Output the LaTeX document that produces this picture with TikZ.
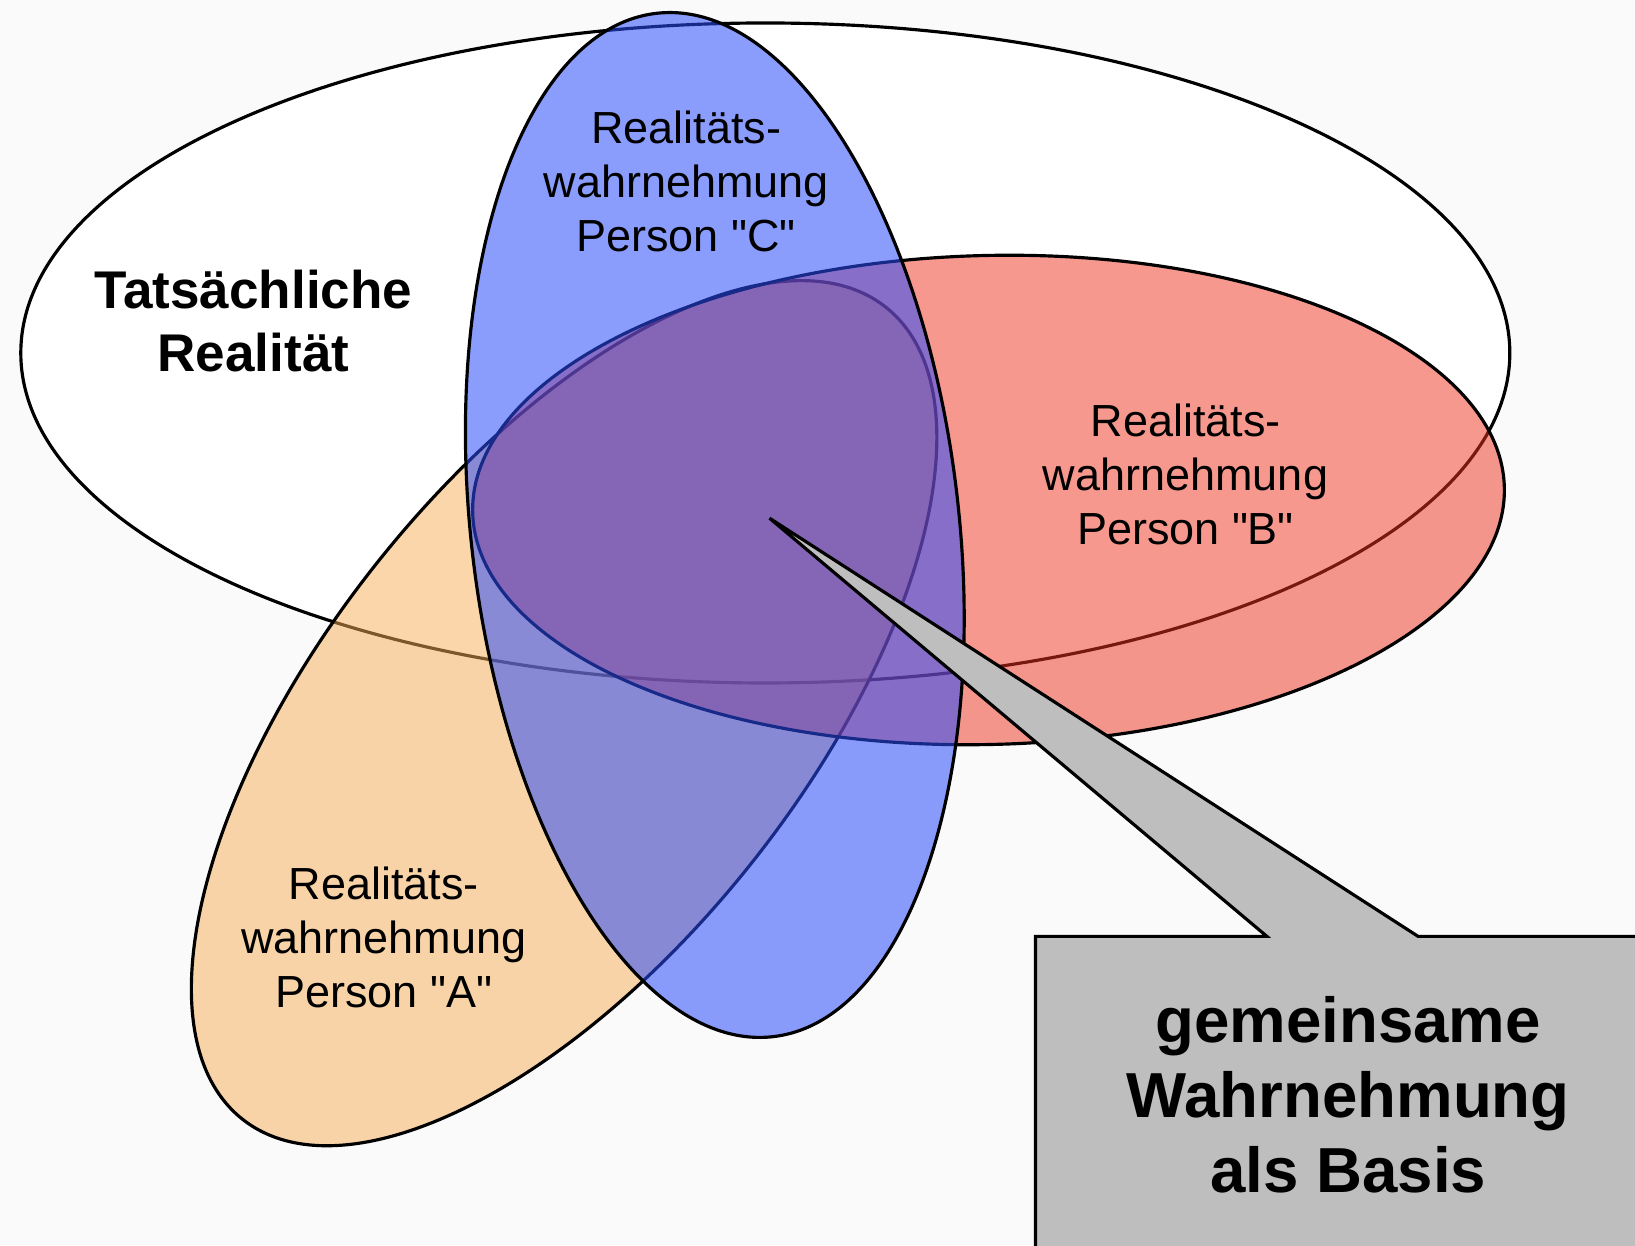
\documentclass[tikz,border=0pt]{standalone}
\usepackage{fontspec}
\setmainfont{Liberation Sans}
\definecolor{paper}{RGB}{250,250,250}
\definecolor{orangeA}{RGB}{246,174,86}
\definecolor{redB}{RGB}{238,50,30}
\definecolor{blueC}{RGB}{43,77,250}
\definecolor{calloutgray}{RGB}{190,190,190}
\begin{document}
\begin{tikzpicture}[
	view/.style={draw=black, line width=0.9pt, fill opacity=0.5},
	person/.style={align=center, font=\fontsize{12.8}{15.4}\selectfont},
	title/.style={align=center, font=\bfseries\fontsize{15.1}{17.8}\selectfont},
	shout/.style={align=center, font=\bfseries\fontsize{18.1}{21.3}\selectfont}]
	\useasboundingbox (0,0) rectangle (16.35,12.45);
	\clip (0,0) rectangle (16.35,12.45);
	\fill[paper] (0,0) rectangle (16.35,12.45);

	\draw[line width=0.9pt, fill=white] (7.653,8.92) ellipse [x radius=7.445, y radius=3.30];
	\draw[view, fill=orangeA, rotate around={51.6:(5.641,5.318)}] (5.641,5.318) ellipse [x radius=5.18, y radius=2.40];
	\draw[view, fill=redB, rotate around={1.4:(9.885,7.45)}] (9.885,7.45) ellipse [x radius=5.16, y radius=2.445];
	\draw[view, fill=blueC, fill opacity=0.55, rotate around={6.5:(7.148,7.20)}] (7.148,7.20) ellipse [x radius=2.44, y radius=5.15];

	\node (realitaet) [title] at (2.534,9.24) {Tatsächliche\\Realität};
	\node (personC) [person] at (6.861,10.636) {Realitäts-\\wahrnehmung\\Person \textquotedbl C\textquotedbl};
	\node (personB) [person] at (11.855,7.706) {Realitäts-\\wahrnehmung\\Person \textquotedbl B\textquotedbl};
	\node (personA) [person] at (3.837,3.076) {Realitäts-\\wahrnehmung\\Person \textquotedbl A\textquotedbl};

	\coordinate (shared) at (7.695,7.268);
	\draw[line width=0.9pt, fill=calloutgray] (10.354,3.086) -- (12.669,3.086) -- (shared) -- (14.181,3.086)
		-- (16.8,3.086) -- (16.8,-0.5) -- (10.354,-0.5) -- cycle;
	\node (basis) [shout] at (13.482,1.50) {gemeinsame\\Wahrnehmung\\als Basis};
\end{tikzpicture}
\end{document}
